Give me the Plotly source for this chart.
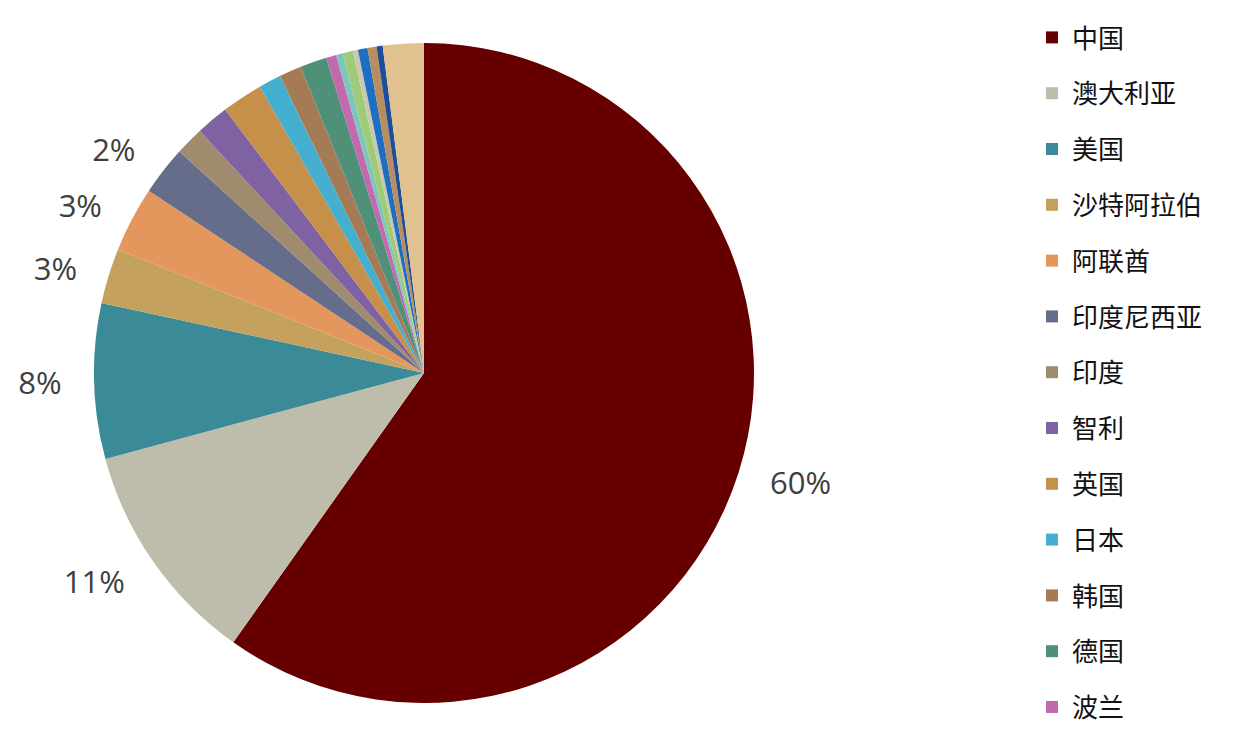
import plotly.graph_objects as go

countries = ["中国", "澳大利亚", "美国", "沙特阿拉伯", "阿联酋", "印度尼西亚", "印度", "智利",
             "英国", "日本", "韩国", "德国", "波兰", "加拿大", "土耳其", "巴西", "俄罗斯",
             "南非", "越南", "其他"]
shares = [59.8, 11.0, 7.6, 2.7, 3.2, 2.4, 1.4, 1.6, 2.0, 1.1, 1.1, 1.3, 0.5, 0.33, 0.5,
          0.25, 0.47, 0.44, 0.3, 2.0]
colors = ["#660000", "#bebdab", "#3b8a98", "#c4a25e", "#e4975c", "#656d8a", "#a18b6e",
          "#7e62a1", "#c68f4a", "#44afcf", "#a57b55", "#4e9178", "#c36aae", "#7dc6c0",
          "#9fca78", "#c8c8b0", "#1e6fc2", "#b88e60", "#1c4f98", "#e2c190"]
labelled = 6          # slices that carry a percentage label
legend_shown = 13     # legend entries visible in the reference

W, H = 1233, 732
cx, cy, r = 416, 365, 330
r_lab = 352           # invisible outer ring that carries the outside labels


def dom(rad):
    return dict(x=[(cx - rad) / W, (cx + rad) / W], y=[1 - (cy + rad) / H, 1 - (cy - rad) / H])


fig = go.Figure()
fig.add_trace(go.Pie(
    labels=countries, values=shares, sort=False, direction="clockwise", rotation=0,
    marker=dict(colors=colors, line=dict(width=0)),
    textinfo="none", showlegend=False, hoverinfo="label+percent", domain=dom(r),
))
fig.add_trace(go.Pie(
    labels=countries, values=shares, sort=False, direction="clockwise", rotation=0,
    marker=dict(colors=["rgba(0,0,0,0)"] * len(countries), line=dict(width=0)),
    texttemplate=["%{percent:.0%}" if i < labelled else "" for i in range(len(countries))],
    textposition="outside", textfont=dict(family="Open Sans", size=31, color="#404040"),
    showlegend=False, hoverinfo="skip", domain=dom(r_lab),
))

for i in range(legend_shown):
    fig.add_trace(go.Scatter(
        x=[None], y=[None], mode="markers", name=countries[i], legendgroup=f"g{i}",
        marker=dict(symbol="square", size=12, color=colors[i]),
    ))

fig.update_layout(
    width=W, height=H, margin=dict(l=0, r=0, t=0, b=0),
    paper_bgcolor="white", plot_bgcolor="white",
    xaxis=dict(visible=False), yaxis=dict(visible=False),
    legend=dict(x=1024 / W, xanchor="left", y=1 - 6 / H, yanchor="top",
                font=dict(family="Noto Sans CJK SC", size=26, color="#111111"),
                tracegroupgap=19, bgcolor="rgba(0,0,0,0)"),
)
fig.write_html("out.html")
